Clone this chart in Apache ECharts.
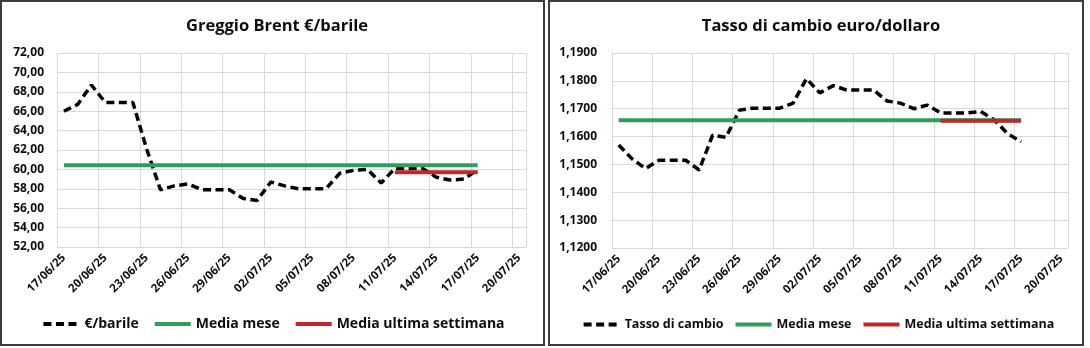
<!DOCTYPE html>
<html>
<head>
<meta charset="utf-8">
<title>Brent e cambio euro/dollaro</title>
<script src="https://cdn.jsdelivr.net/npm/echarts@6/dist/echarts.min.js"></script>
<style>
  html, body { margin: 0; padding: 0; background: #ffffff; }
  #wrap { position: relative; width: 1090px; height: 348px; }
  #brent { position: absolute; left: 0; top: 0; width: 546px; height: 348px; }
  #fx { position: absolute; left: 546px; top: 0; width: 544px; height: 348px; }
</style>
</head>
<body>
<div id="wrap">
  <div id="brent"></div>
  <div id="fx"></div>
</div>
<script>
// Calendar days shown on the x axis (one category per day)
const dates = [
  '17/06/25','18/06/25','19/06/25','20/06/25','21/06/25','22/06/25','23/06/25',
  '24/06/25','25/06/25','26/06/25','27/06/25','28/06/25','29/06/25','30/06/25',
  '01/07/25','02/07/25','03/07/25','04/07/25','05/07/25','06/07/25','07/07/25',
  '08/07/25','09/07/25','10/07/25','11/07/25','12/07/25','13/07/25','14/07/25',
  '15/07/25','16/07/25','17/07/25','18/07/25','19/07/25','20/07/25'
];

// Brent crude in euro per barrel (weekends carry the Friday value)
const brentValues = [
  66.0, 66.7, 68.7, 66.9, 66.9, 66.9, 62.1,
  57.9, 58.3, 58.5, 57.9, 57.9, 57.9, 57.0,
  56.8, 58.7, 58.3, 58.0, 58.0, 58.0, 59.6,
  59.9, 60.0, 58.6, 60.1, 60.1, 60.1, 59.2,
  58.9, 59.0, 60.0
];
const brentMonthAvg = 60.42;
const brentWeekAvg = 59.70;

// EUR/USD exchange rate (weekends carry the Friday value)
const fxValues = [
  1.1570, 1.1520, 1.1485, 1.1515, 1.1515, 1.1515, 1.1480,
  1.1605, 1.1597, 1.1695, 1.1702, 1.1702, 1.1702, 1.1720,
  1.1808, 1.1757, 1.1783, 1.1767, 1.1767, 1.1767, 1.1728,
  1.1720, 1.1700, 1.1713, 1.1685, 1.1685, 1.1685, 1.1690,
  1.1660, 1.1611, 1.1581
];
const fxMonthAvg = 1.1659;
const fxWeekAvg = 1.1657;

// Index range covered by each average line
const monthStart = 0, weekStart = 24, lastDay = 30;

const FONT = '"Open Sans", sans-serif';
const GRID_COLOR = '#d9d9d9';
const TEXT_COLOR = '#0d0d0d';

function spanLine(value, from, to) {
  return dates.map((d, i) => (i >= from && i <= to ? value : null));
}

function buildOption(cfg) {
  return {
    animation: false,
    backgroundColor: '#ffffff',
    textStyle: { fontFamily: FONT },
    graphic: [{
      type: 'rect',
      shape: cfg.frame,
      style: { fill: null, stroke: '#3c3c3c', lineWidth: 2 },
      silent: true
    }],
    title: {
      text: cfg.title,
      left: cfg.titleX,
      top: 13,
      textAlign: 'center',
      textStyle: { fontFamily: FONT, fontWeight: 'bold', fontSize: 16.5, color: TEXT_COLOR }
    },
    grid: cfg.grid,
    legend: {
      bottom: 12,
      left: 'center',
      itemWidth: cfg.legendIcon,
      itemHeight: 14,
      itemGap: cfg.legendGap,
      itemStyle: { opacity: 0 },
      lineStyle: { width: 4 },
      textStyle: { fontFamily: FONT, fontWeight: 'bold', fontSize: cfg.legendFont, color: TEXT_COLOR },
      data: [cfg.lineName, 'Media mese', 'Media ultima settimana']
    },
    xAxis: {
      type: 'category',
      data: dates,
      boundaryGap: true,
      axisLine: { show: false },
      axisTick: { show: false },
      axisLabel: {
        interval: 2,
        rotate: 45,
        margin: 9,
        fontFamily: FONT,
        fontWeight: 'bold',
        fontSize: 11.5,
        color: TEXT_COLOR
      },
      splitLine: { show: true, interval: 2, lineStyle: { color: GRID_COLOR, width: 1 } }
    },
    yAxis: {
      type: 'value',
      min: cfg.yMin,
      max: cfg.yMax,
      interval: cfg.yStep,
      axisLine: { show: false },
      axisTick: { show: false },
      axisLabel: {
        margin: cfg.yLabelMargin,
        fontFamily: FONT,
        fontWeight: 'bold',
        fontSize: 12,
        color: TEXT_COLOR,
        formatter: v => v.toFixed(cfg.decimals).replace('.', ',')
      },
      splitLine: { show: true, lineStyle: { color: GRID_COLOR, width: 1 } }
    },
    series: [
      {
        name: cfg.lineName,
        type: 'line',
        data: cfg.values,
        symbol: 'none',
        lineStyle: { color: '#000000', width: 3.5, type: [8, 4.5] },
        itemStyle: { color: '#000000' }
      },
      {
        name: 'Media mese',
        type: 'line',
        data: spanLine(cfg.monthAvg, monthStart, lastDay),
        symbol: 'none',
        lineStyle: { color: '#2e9e5b', width: 4 },
        itemStyle: { color: '#2e9e5b' }
      },
      {
        name: 'Media ultima settimana',
        type: 'line',
        data: spanLine(cfg.weekAvg, weekStart, lastDay),
        symbol: 'none',
        lineStyle: { color: '#c0272d', width: 4 },
        itemStyle: { color: '#c0272d' }
      }
    ]
  };
}

const brentChart = echarts.init(document.getElementById('brent'), null, { renderer: 'canvas' });
brentChart.setOption(buildOption({
  title: 'Greggio Brent €/barile',
  titleX: 272,
  frame: { x: 1, y: 1, width: 543, height: 344 },
  grid: { left: 57, right: 20, top: 53, bottom: 101 },
  lineName: '€/barile',
  values: brentValues,
  monthAvg: brentMonthAvg,
  weekAvg: brentWeekAvg,
  yMin: 52, yMax: 72, yStep: 2, decimals: 2, yLabelMargin: 13,
  legendFont: 14, legendGap: 14, legendIcon: 36
}));

const fxChart = echarts.init(document.getElementById('fx'), null, { renderer: 'canvas' });
fxChart.setOption(buildOption({
  title: 'Tasso di cambio euro/dollaro',
  titleX: 270,
  frame: { x: 3, y: 1, width: 534, height: 344 },
  grid: { left: 66, right: 22, top: 53, bottom: 100 },
  lineName: 'Tasso di cambio',
  values: fxValues,
  monthAvg: fxMonthAvg,
  weekAvg: fxWeekAvg,
  yMin: 1.12, yMax: 1.19, yStep: 0.01, decimals: 4, yLabelMargin: 15,
  legendFont: 12.5, legendGap: 10, legendIcon: 36
}));
</script>
</body>
</html>
